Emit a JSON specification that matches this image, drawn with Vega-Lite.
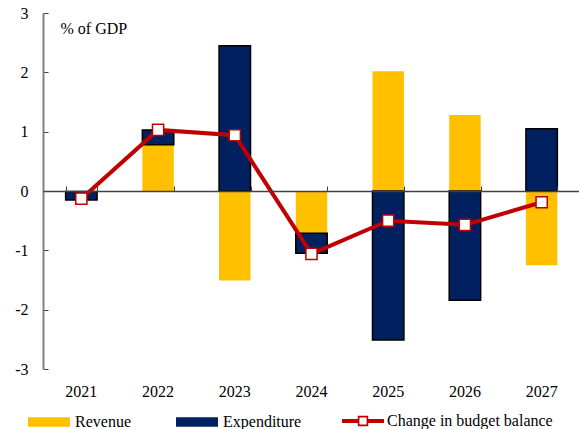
{
  "$schema": "https://vega.github.io/schema/vega-lite/v6.json",
  "width": 537,
  "height": 356,
  "autosize": "none",
  "padding": {"left": 43, "top": 13, "right": 0, "bottom": 60},
  "background": "white",
  "config": {
    "view": {"stroke": null},
    "font": "Liberation Serif",
    "axis": {"labelFont": "Liberation Serif", "labelFontSize": 16, "labelColor": "black", "grid": false}
  },
  "datasets": {
    "bars": [
      {"year": "2021", "series": "Revenue", "value": -0.01, "ord": 1},
      {"year": "2021", "series": "Expenditure", "value": -0.14, "ord": 2},
      {"year": "2022", "series": "Revenue", "value": 0.78, "ord": 1},
      {"year": "2022", "series": "Expenditure", "value": 0.25, "ord": 2},
      {"year": "2023", "series": "Revenue", "value": -1.51, "ord": 1},
      {"year": "2023", "series": "Expenditure", "value": 2.45, "ord": 2},
      {"year": "2024", "series": "Revenue", "value": -0.71, "ord": 1},
      {"year": "2024", "series": "Expenditure", "value": -0.34, "ord": 2},
      {"year": "2025", "series": "Revenue", "value": 2.02, "ord": 1},
      {"year": "2025", "series": "Expenditure", "value": -2.51, "ord": 2},
      {"year": "2026", "series": "Revenue", "value": 1.28, "ord": 1},
      {"year": "2026", "series": "Expenditure", "value": -1.84, "ord": 2},
      {"year": "2027", "series": "Revenue", "value": -1.25, "ord": 1},
      {"year": "2027", "series": "Expenditure", "value": 1.05, "ord": 2}
    ],
    "balance": [
      {"year": "2021", "value": -0.13},
      {"year": "2022", "value": 1.03},
      {"year": "2023", "value": 0.94},
      {"year": "2024", "value": -1.06},
      {"year": "2025", "value": -0.5},
      {"year": "2026", "value": -0.57},
      {"year": "2027", "value": -0.19}
    ]
  },
  "encoding": {
    "y": {
      "field": "value",
      "type": "quantitative",
      "scale": {"domain": [-3, 3], "nice": false, "zero": false},
      "axis": {
        "title": "% of GDP",
        "titleAngle": 0,
        "titleX": 17,
        "titleY": 15,
        "titleAlign": "left",
        "titleBaseline": "middle",
        "titleFont": "Liberation Serif",
        "titleFontSize": 16,
        "titleFontWeight": "normal",
        "titleColor": "black",
        "values": [-3, -2, -1, 0, 1, 2, 3],
        "labelExpr": "datum.value < 0 ? '-' + abs(datum.value) : '' + datum.value",
        "domainColor": "#808080",
        "domainWidth": 2,
        "tickColor": "#404040",
        "tickSize": -5,
        "tickWidth": 1,
        "labelPadding": 20
      }
    }
  },
  "layer": [
    {
      "data": {"name": "bars"},
      "mark": {"type": "bar"},
      "encoding": {
        "x": {
          "field": "year",
          "type": "ordinal",
          "scale": {"paddingInner": 0.59, "paddingOuter": 0.295},
          "axis": {"orient": "bottom", "domain": false, "ticks": false, "labelPadding": 14, "labelAngle": 0, "title": null}
        },
        "y": {"field": "value", "type": "quantitative", "stack": "zero"},
        "color": {
          "field": "series",
          "type": "nominal",
          "scale": {
            "domain": ["Revenue", "Expenditure"],
            "range": ["#FFC000", "#002060"]
          },
          "legend": {
            "orient": "none",
            "legendX": -16,
            "legendY": 387,
            "direction": "horizontal",
            "title": null,
            "symbolType": "M-1,-0.23H1V0.23H-1Z",
            "symbolSize": 1764,
            "labelFontSize": 16,
            "labelFont": "Liberation Serif",
            "labelColor": "black",
            "labelOffset": 4,
            "labelLimit": 400,
            "columnPadding": 42,
            "padding": 0,
            "symbolOpacity": 1,
            "encode": {
              "symbols": {
                "stroke": {
                  "condition": {"test": "datum.value === 'Expenditure'", "value": "black"},
                  "value": "transparent"
                },
                "strokeWidth": {
                  "condition": {"test": "datum.value === 'Expenditure'", "value": 1.5},
                  "value": 0
                }
              }
            }
          }
        },
        "stroke": {
          "condition": {"test": "datum.series === 'Expenditure'", "value": "black"},
          "value": "transparent"
        },
        "strokeWidth": {
          "condition": {"test": "datum.series === 'Expenditure'", "value": 1.5},
          "value": 0
        },
        "order": {"field": "ord"}
      }
    },
    {
      "data": {"name": "balance"},
      "mark": {"type": "line", "strokeWidth": 4},
      "encoding": {
        "x": {
          "field": "year",
          "type": "ordinal",
          "axis": {
            "orient": "top",
            "offset": -178,
            "labels": false,
            "domain": true,
            "domainColor": "#404040",
            "domainWidth": 1.5,
            "ticks": true,
            "tickBand": "extent",
            "tickSize": 5,
            "tickColor": "#404040",
            "tickWidth": 1,
            "title": null,
            "zindex": 1
          }
        },
        "stroke": {
          "datum": "Change in budget balance",
          "type": "nominal",
          "scale": {"domain": ["Change in budget balance"], "range": ["#C00000"]},
          "legend": {
            "orient": "none",
            "legendX": 299,
            "legendY": 387,
            "title": null,
            "symbolType": "M-1,-0.095H-0.25V0.095H-1ZM0.25,-0.095H1V0.095H0.25ZM-0.25,-0.25H0.25V0.25H-0.25ZM-0.17,-0.17V0.17H0.17V-0.17Z",
            "symbolSize": 1764,
            "symbolFillColor": "#C00000",
            "symbolStrokeWidth": 0,
            "symbolStrokeColor": "transparent",
            "labelFontSize": 16,
            "labelFont": "Liberation Serif",
            "labelColor": "black",
            "labelOffset": 3,
            "labelLimit": 400,
            "padding": 0,
            "symbolOpacity": 1
          }
        }
      }
    },
    {
      "data": {"name": "balance"},
      "mark": {"type": "point", "shape": "square", "filled": true, "fill": "white", "stroke": "#C00000", "strokeWidth": 1.5, "size": 125, "opacity": 1},
      "encoding": {
        "x": {"field": "year", "type": "ordinal", "axis": null}
      }
    }
  ],
  "resolve": {"axis": {"x": "independent"}}
}
